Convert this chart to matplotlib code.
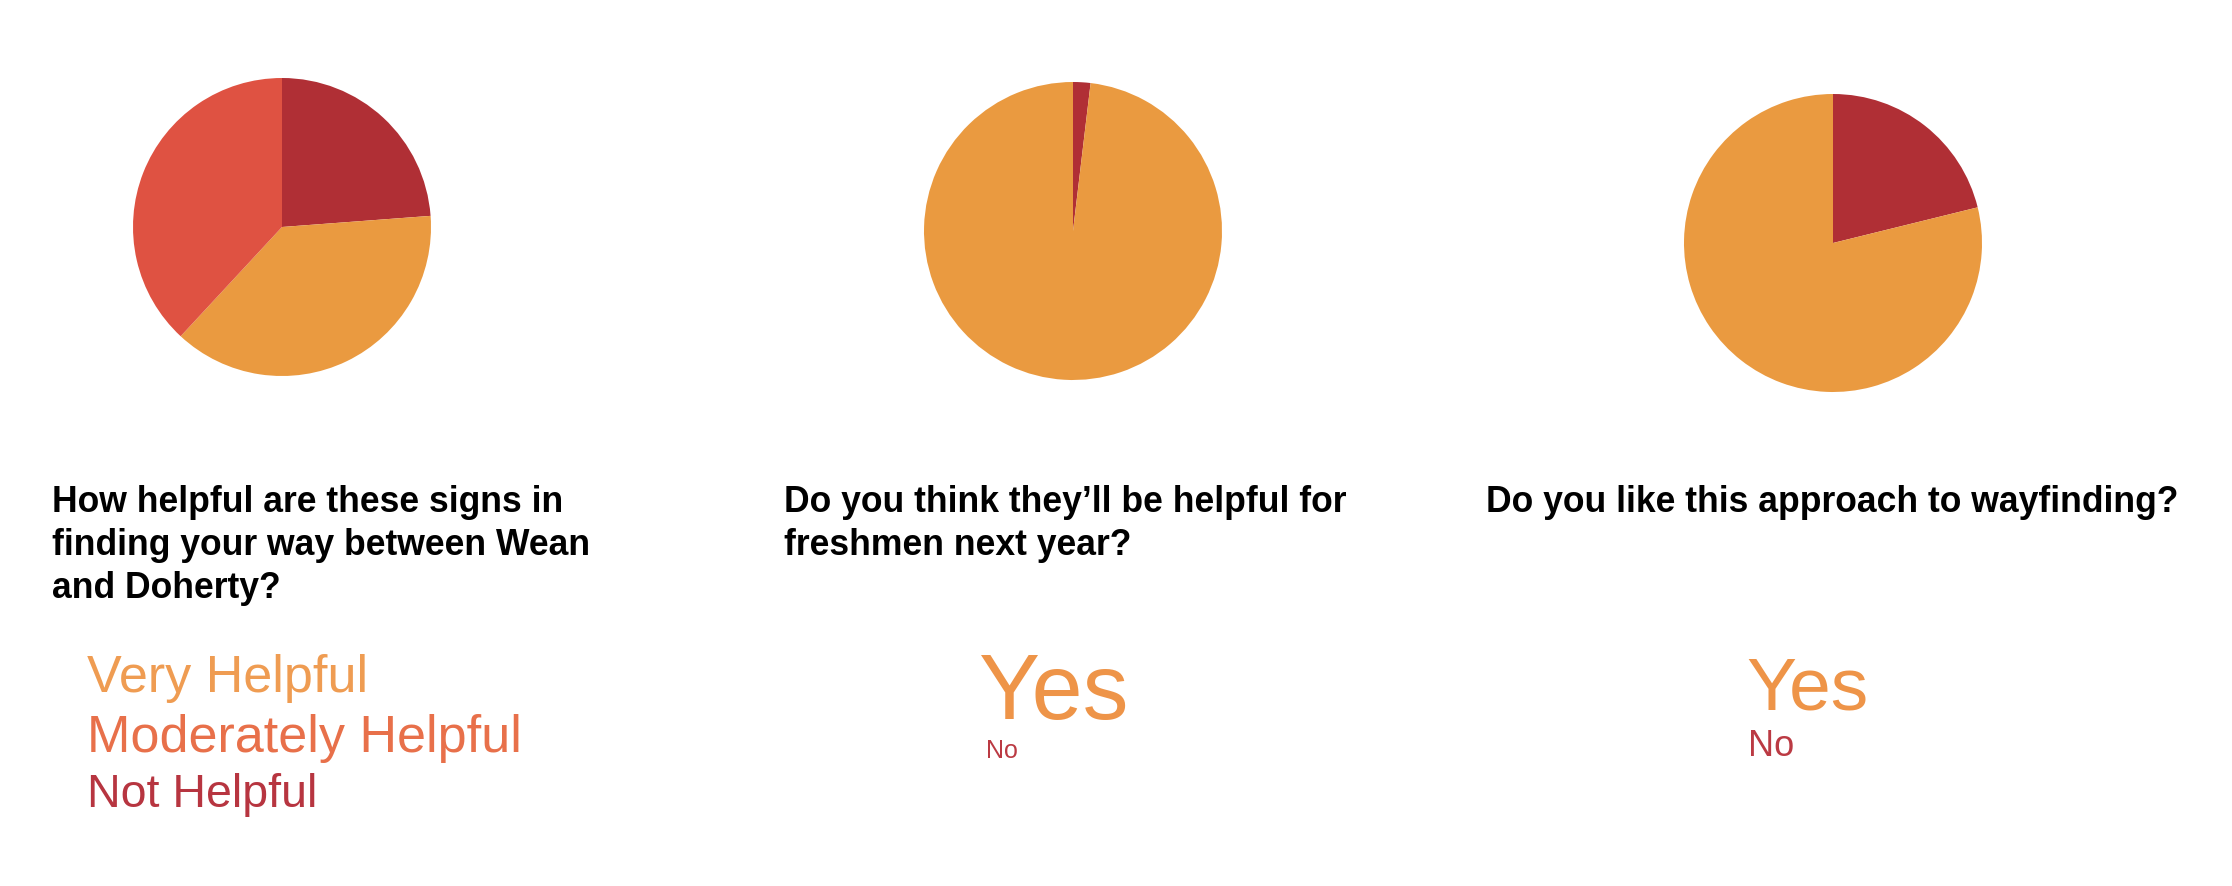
import matplotlib
matplotlib.use("Agg")
import matplotlib.pyplot as plt

# survey data
q1_labels = ["Not Helpful", "Very Helpful", "Moderately Helpful"]
q1_counts = [5, 8, 8]
q2_labels = ["No", "Yes"]
q2_counts = [1, 52]
q3_labels = ["No", "Yes"]
q3_counts = [11, 41]

questions = [
    "How helpful are these signs in\nfinding your way between Wean\nand Doherty?",
    "Do you think they\u2019ll be helpful for\nfreshmen next year?",
    "Do you like this approach to wayfinding?",
]
legend1 = ["Very Helpful", "Moderately Helpful", "Not Helpful"]

ORANGE = "#EA9A40"
DARKRED = "#B02F35"
REDORANGE = "#DF5242"

W, H = 2232, 886
fig = plt.figure(figsize=(W / 100, H / 100), dpi=100)


def px(x, y):
    return x / W, 1 - y / H


def add_pie(cx, cy, counts, colors, r=149):
    ax = fig.add_axes([(cx - r) / W, (H - cy - r) / H, 2 * r / W, 2 * r / H])
    ax.pie(counts, colors=colors, startangle=90, counterclock=False,
           radius=1, wedgeprops=dict(linewidth=0))
    ax.set_xlim(-1, 1)
    ax.set_ylim(-1, 1)
    ax.set_aspect("equal")
    ax.axis("off")


add_pie(282, 227, q1_counts, [DARKRED, ORANGE, REDORANGE])
add_pie(1073, 231, q2_counts, [DARKRED, ORANGE])
add_pie(1833, 243, q3_counts, [DARKRED, ORANGE])

title_font = dict(family=["Liberation Sans", "DejaVu Sans"], weight="bold",
                  fontsize=25.6, color="black", va="baseline")
for i, line in enumerate(questions[0].split("\n")):
    fig.text(*px(52, 512 + 43 * i), line, **title_font)
for i, line in enumerate(questions[1].split("\n")):
    fig.text(*px(784, 512 + 43 * i), line, **title_font)
fig.text(*px(1486, 512), questions[2], **title_font)

light = dict(family=["Liberation Sans", "DejaVu Sans"], weight="normal", va="baseline")
legend_colors = ["#EF9C52", "#E8704A", "#B73540"]
legend_sizes = [37.5, 37.5, 33.5]
for label, col, fs, y in zip(legend1, legend_colors, legend_sizes, [692, 752, 807]):
    fig.text(*px(87, y), label, color=col, fontsize=fs, **light)

fig.text(*px(979, 719), q2_labels[1], color="#EE9448", fontsize=66, **light)
fig.text(*px(986, 758), q2_labels[0], color="#BB3A43", fontsize=18, **light)
fig.text(*px(1746, 710), q3_labels[1], color="#EE9448", fontsize=54, **light)
fig.text(*px(1748, 756), q3_labels[0], color="#BB3A43", fontsize=26, **light)

fig.savefig("out.png", dpi=100, facecolor="white")
